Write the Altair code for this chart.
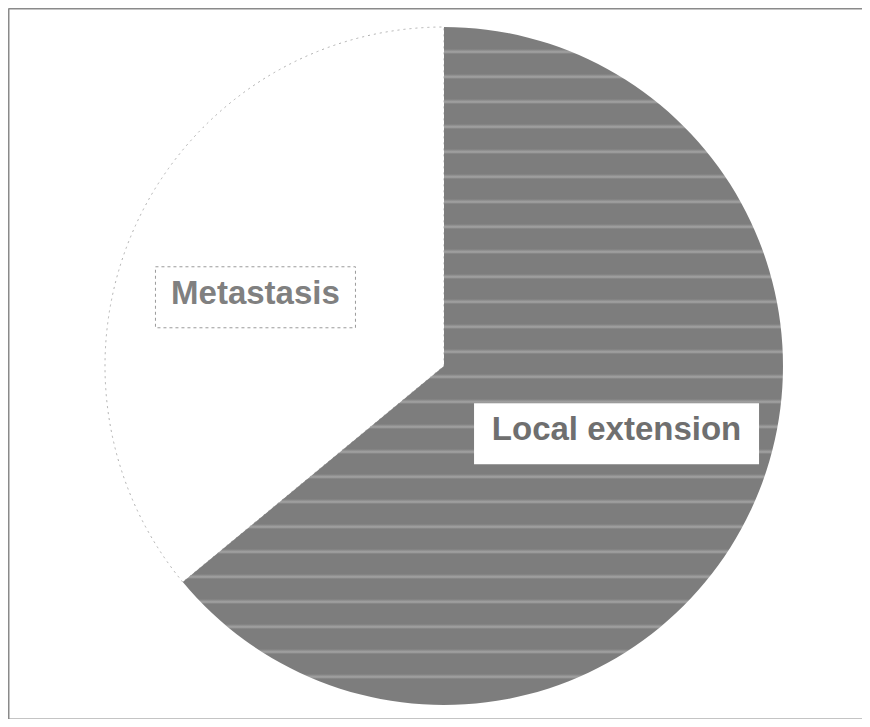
import altair as alt
import pandas as pd

# ---- data ----
categories = ["Local extension", "Metastasis"]
shares = [64, 36]
order_idx = [0, 1]

df = pd.DataFrame({"label": categories, "share": shares, "idx": order_idx})
total = sum(shares)

# ---- layout / style ----
W, H = 854, 711          # whole chart (padding 0)
CX = 436                 # pie centre inside the view (px from left)
CY = 358                 # pie centre inside the view (px from top)
R = 339                  # pie radius
LR = 193                 # label radius
LOFF = -4.5              # label angle offset (deg)
LSHIFT = -8              # label horizontal shift (px)

# horizontal stripes on the dark slice via a linear gradient
period = 25
base_col, light_col = "#7d7d7d", "#a4a4a4"
stops = [{"offset": 0, "color": base_col}]
k = 1
while k * period + 3 < 2 * R:
    c = k * period / (2 * R)
    stops.append({"offset": c - 3 / (2 * R), "color": base_col})
    stops.append({"offset": c, "color": light_col})
    stops.append({"offset": c + 2 / (2 * R), "color": base_col})
    k += 1
stops.append({"offset": 1, "color": base_col})
stripe = {"gradient": "linear", "x1": 0, "y1": 0, "x2": 0, "y2": 1, "stops": stops}

xs = alt.Scale(domain=[-CX, W - CX], nice=False, zero=False)
ys = alt.Scale(domain=[-(H - CY), CY], nice=False, zero=False)
ts = alt.Scale(domain=[0, total])

frame_axis = dict(domain=True, ticks=False, labels=False, grid=False, title=None,
                  domainColor="#8a8a8a", domainWidth=2)

base = (
    alt.Chart(df)
    .transform_window(end="sum(share)", sort=[alt.SortField("idx")], frame=[None, 0])
    .transform_calculate(start="datum.end - datum.share")
    .transform_calculate(mid=f"(datum.end - datum.share/2)/{total}*2*PI + ({LOFF})*PI/180")
    .transform_calculate(lx=f"{LR}*sin(datum.mid) + ({LSHIFT})")
    .transform_calculate(ly=f"{LR}*cos(datum.mid)")
    .transform_calculate(hw="8.5*length(datum.label) + 15")
    .transform_calculate(bx1="datum.lx - datum.hw", bx2="datum.lx + datum.hw")
    .transform_calculate(by1="datum.ly - 30", by2="datum.ly + 31", ty="datum.ly + 4")
)

white = base.transform_filter(alt.datum.label == "Metastasis").mark_arc(
    outerRadius=R, fill="white", stroke="#b0b0b0", strokeWidth=1, strokeDash=[2, 4]
).encode(
    theta=alt.Theta("start:Q", stack=None, scale=ts),
    theta2="end:Q",
    x=alt.XDatum(0, scale=xs, axis=alt.Axis(orient="bottom", **frame_axis)),
    y=alt.YDatum(0, scale=ys, axis=alt.Axis(orient="left", **frame_axis)),
)

dark = base.transform_filter(alt.datum.label == "Local extension").mark_arc(
    outerRadius=R, fill=stripe
).encode(
    theta=alt.Theta("start:Q", stack=None, scale=ts),
    theta2="end:Q",
    x=alt.XDatum(0, scale=xs, axis=alt.Axis(orient="top", **frame_axis)),
    y=alt.YDatum(0, scale=ys, axis=None),
)

boxes = base.mark_rect(fill="white", stroke="#9a9a9a", strokeWidth=1, strokeDash=[3, 3]).encode(
    x=alt.X("bx1:Q", scale=xs, axis=None),
    x2="bx2:Q",
    y=alt.Y("by1:Q", scale=ys, axis=None),
    y2="by2:Q",
    strokeOpacity=alt.condition(alt.datum.label == "Metastasis", alt.value(1), alt.value(0)),
)

texts = base.mark_text(
    font="Liberation Sans", fontSize=33, fontWeight="bold",
    align="center", baseline="middle",
).encode(
    x=alt.X("lx:Q", scale=xs, axis=None),
    y=alt.Y("ty:Q", scale=ys, axis=None),
    text="label:N",
    color=alt.condition(alt.datum.label == "Metastasis", alt.value("#808080"), alt.value("#6f6f6f")),
)

chart = (
    alt.layer(white, dark, boxes, texts)
    .resolve_axis(x="independent", y="independent")
    .properties(
        width=W, height=H, padding=0,
        autosize=alt.AutoSizeParams(type="fit", contains="padding"),
        background="white",
    )
    .configure_view(stroke=None)
)

chart.save("out.html", embed_options={"renderer": "svg", "actions": False})
